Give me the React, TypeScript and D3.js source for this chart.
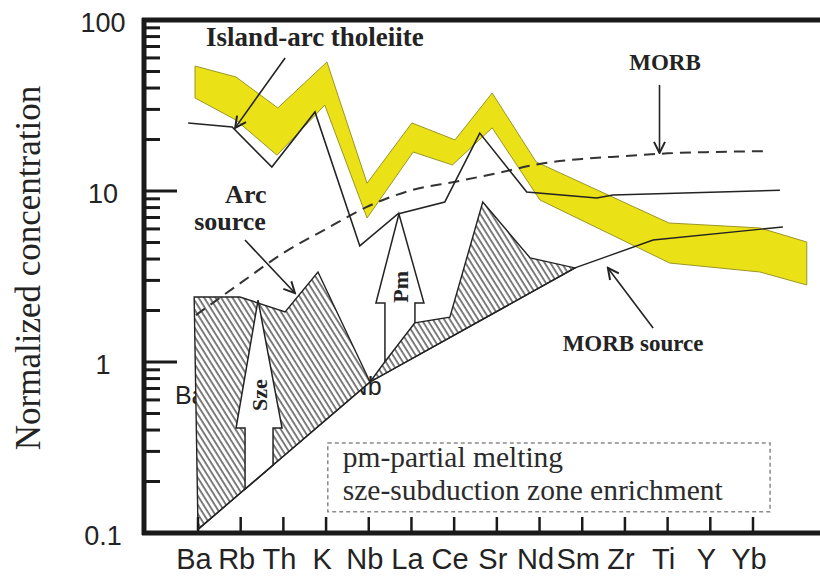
import React from 'react';
import * as d3 from 'd3';

type Pt = [number, number];

const W = 820;
const H = 576;

// Element order on the spider diagram
const elements = ['Ba', 'Rb', 'Th', 'K', 'Nb', 'La', 'Ce', 'Sr', 'Nd', 'Sm', 'Zr', 'Ti', 'Y', 'Yb'];
const yTickValues = [0.1, 1, 10, 100];
const yTickLabels = ['0.1', '1', '10', '100'];

// Island-arc tholeiite field: [element position, normalized concentration]
const iatUpper: Pt[] = [
  [-0.07, 53.8], [0.89, 46.4], [1.87, 30.6], [3.02, 56.8], [3.96, 11.1], [5.01, 25.0],
  [6.02, 19.9], [6.89, 37.4], [7.92, 14.8], [11.03, 6.5], [13.16, 6.08], [14.26, 5.03],
];
const iatLower: Pt[] = [
  [-0.07, 35.0], [0.89, 26.0], [1.85, 16.2], [2.97, 31.8], [3.96, 6.95], [5.04, 16.9],
  [5.96, 14.2], [6.89, 23.4], [8.01, 8.86], [11.05, 3.79], [13.16, 3.36], [14.26, 2.82],
];

// Island-arc tholeiite pattern
const iatLine: Pt[] = [
  [-0.23, 25.0], [0.8, 23.7], [1.73, 13.8], [2.74, 29.0], [3.79, 4.77], [4.68, 7.34],
  [5.78, 8.62], [6.6, 21.8], [7.7, 9.87], [9.34, 9.1], [9.72, 9.48], [13.63, 10.1],
];

// MORB pattern (dashed)
const morbLine: Pt[] = [
  [-0.05, 1.88], [1, 2.9], [2, 4.34], [3, 6.0], [4, 8.17], [5, 10.1], [6, 11.3],
  [7, 12.7], [8, 14.4], [9, 15.4], [10, 16.0], [11, 16.6], [12, 16.9], [13.3, 17.1],
];

// MORB source pattern
const morbSource: Pt[] = [[0, 0.105], [4.03, 0.764], [8.83, 3.55], [10.66, 5.17], [13.7, 6.16]];

// Arc source: upper bounds of the two hatched fields
const arcSourceLeft: Pt[] = [[-0.09, 2.4], [0.98, 2.4], [2.04, 1.96], [2.81, 3.36], [4.03, 0.764]];
const arcSourceRight: Pt[] = [[4.03, 0.764], [5.04, 1.69], [5.9, 1.83], [6.67, 8.62], [7.78, 4.06], [8.83, 3.55]];

// Block arrows: element position, tip value, head-base value
const szeArrow = { pos: 1.43, tip: 2.3, base: 0.411 };
const pmArrow = { pos: 4.73, tip: 7.34, base: 2.21 };
const szeText = { text: 'Sze', pos: 1.45, val: 0.641 };
const pmText = { text: 'Pm', pos: 4.75, val: 2.75 };

// Field labels and their pointer arrows
const labelTexts = ['Island-arc tholeiite', 'MORB', 'Arc', 'source', 'MORB source'];
const labelAnchors: Pt[] = [[2.74, 79.6], [10.94, 56.8], [1.12, 9.48], [0.75, 6.59], [10.19, 1.29]];
const pointers: [Pt, Pt][] = [
  [[2.04, 60.0], [0.87, 23.4]],
  [[10.81, 41.7], [10.81, 16.7]],
  [[1.1, 5.17], [2.27, 2.53]],
  [[10.66, 1.58], [9.6, 3.55]],
];

// Element names partly covered by the hatched fields
const coveredNames = ['Ba', 'Nb'];
const coveredAnchors: Pt[] = [[-0.54, 0.641], [4.3, 0.72]];

// Abbreviation box
const noteLines = ['pm-partial melting', 'sze-subduction zone enrichment'];
const noteBox: [Pt, Pt] = [[3.04, 0.336], [13.4, 0.133]];
const noteAnchors: Pt[] = [[3.39, 0.243], [3.39, 0.156]];

const SERIF = '"Liberation Serif", "Times New Roman", Times, serif';
const SANS = '"Liberation Sans", Arial, Helvetica, sans-serif';
const INK = '#232323';

export default function App() {
  const x = d3.scaleLinear().domain([0, 13]).range([198, 753]);
  const y = d3.scaleLog().domain([0.1, 100]).range([533, 20]);
  const left = 144;
  const top = y(100);
  const bottom = y(0.1);

  const line = d3.line<Pt>().x((d) => x(d[0])).y((d) => y(d[1]));
  const smooth = d3.line<Pt>().x((d) => x(d[0])).y((d) => y(d[1])).curve(d3.curveMonotoneX);

  // pixel y of a polyline at pixel x
  const yAt = (series: Pt[], xp: number) => {
    for (let k = 0; k < series.length - 1; k++) {
      const x0 = x(series[k][0]);
      const x1 = x(series[k + 1][0]);
      if (xp >= x0 && xp <= x1) {
        const t = (xp - x0) / (x1 - x0);
        return y(series[k][1]) * (1 - t) + y(series[k + 1][1]) * t;
      }
    }
    return y(series[series.length - 1][1]);
  };

  // hollow block arrow whose shaft stands on the given polyline
  const blockArrow = (a: { pos: number; tip: number; base: number }, floor: Pt[], sh: number, hh: number) => {
    const cx = x(a.pos);
    const yt = y(a.tip);
    const yb = y(a.base);
    const yl = yAt(floor, cx - sh);
    const yr = yAt(floor, cx + sh);
    return `M${cx - 1},${yt} L${cx + hh},${yb} L${cx + sh},${yb} L${cx + sh},${yr} L${cx - sh},${yl} L${cx - sh},${yb} L${cx - hh},${yb} Z`;
  };

  const bandPath = line([...iatUpper, ...[...iatLower].reverse()]) + 'Z';
  const leftField = line([...arcSourceLeft, morbSource[0]]) + 'Z';
  const rightField = line([...arcSourceRight, morbSource[1]]) + 'Z';

  // minor ticks of the log axis
  const minor: number[] = [];
  [0.1, 1, 10].forEach((d) => {
    for (let k = 2; k <= 9; k++) minor.push(+(k * d).toPrecision(3));
  });

  const labelSizes = [27, 23, 26, 26, 23];

  return (
    <div style={{ position: 'absolute', left: 0, top: 0 }}>
      <svg width={W} height={H} viewBox={`0 0 ${W} ${H}`} style={{ display: 'block', background: '#fff' }}>
        <defs>
          <pattern id="hatch" patternUnits="userSpaceOnUse" width={4.8} height={10} patternTransform="rotate(-32)">
            <rect width={4.8} height={10} fill="#fff" />
            <line x1={1} y1={0} x2={1} y2={10} stroke="#2a2a2a" strokeWidth={1.2} />
          </pattern>
          <marker id="vhead" viewBox="0 0 14 14" refX={12.5} refY={7} markerWidth={14} markerHeight={14}
            markerUnits="userSpaceOnUse" orient="auto">
            <path d="M1.5,1.5 L12.5,7 L1.5,12.5" fill="none" stroke={INK} strokeWidth={2} />
          </marker>
        </defs>

        {/* island-arc tholeiite field */}
        <path d={bandPath} fill="#ebe117" stroke="#9c9624" strokeWidth={1} />

        {/* element names lying under the hatched fields */}
        {coveredNames.map((t, i) => (
          <text key={t} x={x(coveredAnchors[i][0])} y={y(coveredAnchors[i][1])}
            textAnchor={i === 0 ? 'start' : 'end'} dominantBaseline="central"
            fontFamily={SANS} fontSize={25} fill={INK}>{t}</text>
        ))}

        {/* arc source fields */}
        <path d={leftField} fill="url(#hatch)" stroke={INK} strokeWidth={1.4} />
        <path d={rightField} fill="url(#hatch)" stroke={INK} strokeWidth={1.4} />

        {/* enrichment / melting arrows */}
        <path d={blockArrow(szeArrow, morbSource, 14, 23)} fill="#fff" stroke={INK} strokeWidth={1.5} />
        <path d={blockArrow(pmArrow, arcSourceRight, 15, 24)} fill="#fff" stroke={INK} strokeWidth={1.5} />
        {[szeText, pmText].map((t) => (
          <text key={t.text} transform={`translate(${x(t.pos)},${y(t.val)}) rotate(-90)`}
            textAnchor="middle" dominantBaseline="central" fontFamily={SERIF} fontWeight="bold"
            fontSize={22} fill={INK}>{t.text}</text>
        ))}

        {/* patterns */}
        <path d={smooth(morbLine) ?? ''} fill="none" stroke="#333" strokeWidth={2} strokeDasharray="11 7" />
        <path d={line(iatLine) ?? ''} fill="none" stroke={INK} strokeWidth={1.6} />
        <path d={line(morbSource) ?? ''} fill="none" stroke={INK} strokeWidth={1.4} />

        {/* field labels */}
        {labelTexts.map((t, i) => (
          <text key={t} x={x(labelAnchors[i][0])} y={y(labelAnchors[i][1])} textAnchor="middle"
            dominantBaseline="central" fontFamily={SERIF} fontWeight="bold" fontSize={labelSizes[i]}
            fill={INK}>{t}</text>
        ))}
        {pointers.map(([a, b], i) => (
          <line key={i} x1={x(a[0])} y1={y(a[1])} x2={x(b[0])} y2={y(b[1])}
            stroke={INK} strokeWidth={1.6} markerEnd="url(#vhead)" />
        ))}

        {/* abbreviations */}
        <rect x={x(noteBox[0][0])} y={y(noteBox[0][1])}
          width={x(noteBox[1][0]) - x(noteBox[0][0])} height={y(noteBox[1][1]) - y(noteBox[0][1])}
          fill="none" stroke="#8a8a8a" strokeWidth={1.5} strokeDasharray="4 3" />
        {noteLines.map((t, i) => (
          <text key={t} x={x(noteAnchors[i][0])} y={y(noteAnchors[i][1])} fontFamily={SERIF}
            fontSize={29.5} fill="#2b2b2b">{t}</text>
        ))}

        {/* y axis */}
        {minor.map((v) => (
          <line key={v} x1={left} x2={left + 16} y1={y(v)} y2={y(v)} stroke="#1a1a1a" strokeWidth={3} />
        ))}
        {[1, 10].map((v) => (
          <line key={v} x1={left} x2={left + 33} y1={y(v)} y2={y(v)} stroke="#1a1a1a" strokeWidth={3} />
        ))}
        {yTickValues.map((v, i) => (
          <text key={v} x={103} y={y(v) + 3} textAnchor="middle" dominantBaseline="central"
            fontFamily={SANS} fontSize={27} fill={INK}>{yTickLabels[i]}</text>
        ))}
        <text transform={`translate(28,268) rotate(-90)`} textAnchor="middle" dominantBaseline="central"
          fontFamily={SERIF} fontSize={35} fill={INK}>Normalized concentration</text>

        {/* x axis */}
        {elements.map((e, i) => (
          <g key={e}>
            <line x1={x(i)} x2={x(i)} y1={bottom} y2={bottom - 16} stroke="#1a1a1a" strokeWidth={2.5} />
            <text x={x(i) - 4} y={bottom + 26} textAnchor="middle" dominantBaseline="central"
              fontFamily={SANS} fontSize={29} fill={INK}>{e}</text>
          </g>
        ))}

        {/* frame */}
        <line x1={left - 2} x2={W} y1={top} y2={top} stroke="#1a1a1a" strokeWidth={5} />
        <line x1={left - 2} x2={W} y1={bottom} y2={bottom} stroke="#1a1a1a" strokeWidth={5} />
        <line x1={left} x2={left} y1={top - 2} y2={bottom + 2} stroke="#1a1a1a" strokeWidth={5} />
      </svg>
    </div>
  );
}
